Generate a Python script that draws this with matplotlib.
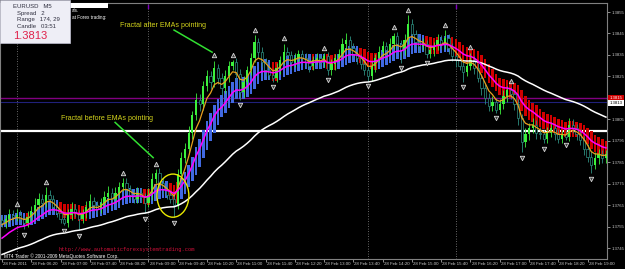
import numpy as np
import pandas as pd
import matplotlib
matplotlib.use('Agg')
import matplotlib.pyplot as plt
from matplotlib.patches import Ellipse, Rectangle
from matplotlib.transforms import blended_transform_factory

# EURUSD M5, 28 Feb 2011, one bar every 5 minutes from 05:40
# closes in pips above 1.3700
close_pips = [
    56.9, 58.7, 60.6, 59.7, 60.6, 58.7, 56.9, 59.7, 62.5, 65.3,
    68.1, 66.2, 70.0, 68.1, 64.3, 61.5, 58.7, 56.9, 60.6, 63.4,
    61.5, 58.7, 61.5, 64.3, 67.1, 65.3, 63.4, 66.2, 69.0, 70.9,
    68.1, 70.9, 73.7, 75.6, 72.8, 70.0, 68.1, 70.9, 69.0, 66.2,
    70.0, 77.4, 80.2, 75.6, 72.8, 70.0, 68.1, 65.3, 79.8, 86.8,
    91.4, 98.9, 106.9, 113.9, 112.0, 120.4, 125.1, 122.3, 128.8, 124.2,
    119.5, 125.1, 129.8, 131.6, 126.0, 117.6, 122.3, 127.9, 133.5, 141.0,
    136.3, 131.6, 127.9, 125.6, 124.2, 128.8, 132.6, 136.3, 134.9, 131.6,
    133.5, 135.4, 133.5, 131.6, 129.8, 132.6, 133.5, 131.6, 134.4, 127.9,
    130.7, 133.5, 135.4, 140.0, 141.9, 138.1, 135.4, 133.5, 130.7, 127.9,
    125.1, 129.8, 133.5, 136.3, 139.1, 137.2, 140.0, 143.8, 140.0, 137.2,
    141.9, 149.4, 144.7, 141.0, 139.1, 140.0, 135.4, 137.2, 139.1, 141.9,
    140.0, 142.8, 138.1, 134.4, 132.6, 129.8, 127.0, 129.8, 132.6, 128.8,
    124.2, 119.5, 114.8, 111.1, 113.0, 109.3, 112.0, 115.8, 118.6, 116.7,
    112.0, 105.5, 94.3, 98.0, 100.8, 102.6, 98.9, 98.0, 96.1, 98.9,
    100.8, 98.0, 96.1, 98.0, 97.0, 102.6, 100.8, 98.0, 95.2, 91.4,
    87.7, 83.9, 86.8, 88.7, 86.8, 88.7]
first_open_pips = 58.0

# wick lengths in pips
wick_up = [
    2.5, 2, 2.5, 2, 2.7, 2, 1.5, 2.5, 2, 3,
    2.5, 2, 3.5, 2, 1.5, 2, 1.5, 2, 2.5, 3,
    2, 1.5, 2, 2.5, 3, 2, 1.5, 2, 2.5, 3,
    2, 2.5, 2, 2.1, 2, 1.5, 2, 2.5, 2, 1.5,
    3, 2.5, 1.7, 2, 2, 2.5, 2, 1.5, 2, 3,
    2.5, 3, 2, 3.5, 3, 2.5, 3, 2.5, 3.6, 2,
    2.5, 3, 2.5, 1, 2, 2.5, 3, 2, 2.5, 3.1,
    2, 2.5, 2, 2, 3, 2.5, 2, 4, 2.5, 2,
    2.5, 2, 2, 2.5, 2, 2, 2.5, 2, 1.3, 2,
    2.5, 2, 2.5, 3, 3.5, 2, 2.5, 2, 2, 2.5,
    2, 2.5, 2, 3, 2.5, 2, 3, 1.5, 2, 2,
    3, 4, 2.5, 2, 2.5, 3, 2, 2.5, 2, 3,
    2.5, 3.6, 2, 2.5, 2, 2, 2.5, 2, 3.5, 2,
    2.5, 2, 2, 2.5, 3, 2, 2.5, 3, 2, 1.7,
    2, 2.5, 2, 3, 2.5, 3, 2, 2.5, 2, 2.5,
    3, 2, 2.5, 2, 2, 3, 2.5, 2, 2.5, 2,
    2, 2.5, 3, 2.5, 2, 2]
wick_dn = [
    2, 2.5, 2, 2.5, 2, 2, 3.1, 2, 2.5, 2,
    2, 2.5, 2, 2, 2.5, 2, 2, 1.3, 2, 2.5,
    2, 5.4, 2, 2.5, 2, 2, 2.5, 2, 2, 2,
    2.5, 2, 2, 2, 2.5, 2, 2, 2, 2.5, 5,
    2, 2.5, 2, 2, 2.5, 2, 2, 5.9, 2, 2.5,
    2, 2.5, 3, 2, 3, 2.5, 2, 3, 2, 2.5,
    3, 2, 2.5, 2, 2.5, 3.6, 2, 2.5, 2, 2,
    2.5, 2, 2.5, 2, 1.7, 2, 2.5, 2, 2, 2.5,
    2, 2.5, 2, 2, 2.5, 2, 2, 2.5, 2, 2.2,
    2, 2.5, 2, 2, 2.5, 2, 2, 2.5, 2, 2,
    2.2, 2, 2.5, 2, 2, 2.5, 2, 2, 2.5, 5.9,
    2, 2.5, 2, 2, 2.5, 2, 1.7, 2, 2.5, 2,
    2, 2, 2.5, 2, 3, 2, 4.5, 2, 2, 2.5,
    2, 3, 2.5, 2, 2, 1.3, 2, 2, 2.5, 2,
    2.5, 3, 4.6, 2, 2.5, 2, 3, 2, 2.2, 2,
    2, 2.5, 2, 2, 1.5, 2, 2, 2.5, 2, 3,
    2.5, 4, 2, 2.5, 2, 2]

up_fractals = [4, 12, 33, 42, 58, 63, 69, 77, 88, 107, 111, 121, 128, 139]
down_fractals = [6, 17, 21, 39, 47, 65, 74, 89, 100, 109, 116, 126, 135, 142, 148, 154, 161]

# starting values of the moving averages (pips above 1.3700)
fast_seed, mid_seed, slow_seed = 55.5, 48.5, 41.5

time_labels = ['28 Feb 2011', '28 Feb 06:20', '28 Feb 07:00', '28 Feb 07:40', '28 Feb 08:20',
               '28 Feb 09:00', '28 Feb 09:40', '28 Feb 10:20', '28 Feb 11:00', '28 Feb 11:40',
               '28 Feb 12:20', '28 Feb 13:00', '28 Feb 13:40', '28 Feb 14:20', '28 Feb 15:00',
               '28 Feb 15:40', '28 Feb 16:20', '28 Feb 17:00', '28 Feb 17:40', '28 Feb 18:20',
               '28 Feb 19:00']
price_ticks = [1.3855, 1.3845, 1.3835, 1.3825, 1.3805, 1.3795, 1.3785, 1.3775, 1.3765, 1.3755, 1.3745]
ask_price = 1.3815
bid_price = 1.3813
level_price = 1.37995
session_bars = [4, 40, 100, 124]

# ---- derived series
c = 1.37 + np.array(close_pips) / 1e4
o = np.r_[1.37 + first_open_pips / 1e4, c[:-1]]
h = np.maximum(o, c) + np.array(wick_up) / 1e4
l = np.minimum(o, c) - np.array(wick_dn) / 1e4
n = len(c)
idx = np.arange(n)


def ema(values, span, seed):
    a = 2 / (span + 1)
    out, prev = [], seed
    for v in values:
        prev = prev + a * (v - prev)
        out.append(prev)
    return np.array(out)


ema_fast = ema(c, 5, 1.37 + fast_seed / 1e4)
ema_mid = ema(c, 13, 1.37 + mid_seed / 1e4)
ema_slow = ema(c, 50, 1.37 + slow_seed / 1e4)

# heiken ashi smoothed
sm = lambda s: pd.Series(s).ewm(span=12, adjust=False).mean().values
so, sh, sl, sc = sm(o), sm(h), sm(l), sm(c)
ha_c = (so + sh + sl + sc) / 4
ha_o = np.empty(n)
ha_o[0] = (so[0] + sc[0]) / 2
for i in range(1, n):
    ha_o[i] = (ha_o[i - 1] + ha_c[i - 1]) / 2
ha_h = np.maximum(sh, np.maximum(ha_o, ha_c))
ha_l = np.minimum(sl, np.minimum(ha_o, ha_c))

# ---- figure
W, H = 625, 269
fig = plt.figure(figsize=(W / 100, H / 100), dpi=100, facecolor='black')
ax = fig.add_axes([0, 10 / H, 607 / W, 256 / H], facecolor='black')
ax.set_xlim(-0.55, 165.3)
ax.set_ylim(1.37400, 1.38592)

for b in session_bars:
    ax.axvline(b, color='#8a8a8a', lw=0.6, ls=(0, (1, 2)), zorder=1)
for b in (40, 124):
    ax.plot([b, b], [1.38570, 1.38585], color='#8000c0', lw=1, zorder=2)

ax.axhline(ask_price, color='#800080', lw=1, zorder=2)
ax.axhline(bid_price, color='#20207a', lw=0.8, zorder=2)
ax.axhline(level_price, color='white', lw=1.6, zorder=2)

ha_up = ha_c >= ha_o
for mask, col in ((ha_up, '#4169e1'), (~ha_up, '#d00000')):
    ax.bar(idx[mask], (ha_h - ha_l)[mask], bottom=ha_l[mask], width=0.7, color=col, zorder=3)

# candles
bull = c >= o
ax.vlines(idx[bull], l[bull], h[bull], color='#3cf03c', lw=0.6, zorder=4)
ax.vlines(idx[~bull], l[~bull], h[~bull], color='#2e8f80', lw=0.6, zorder=4)
body = np.maximum(np.abs(c - o), 0.00003)
ax.bar(idx[bull], body[bull], bottom=o[bull], width=0.62, color='#3cf03c', zorder=4.5)
ax.bar(idx[~bull], body[~bull], bottom=c[~bull], width=0.62, color='black',
       edgecolor='#2e8f80', linewidth=0.5, zorder=4.5)

ax.plot(idx, ema_slow, color='white', lw=1.1, zorder=5)
ax.plot(idx, ema_mid, color='#ff00ff', lw=1.1, zorder=5.2)
ax.plot(idx, ema_fast, color='#e8a020', lw=0.9, zorder=5.1)

ax.plot(up_fractals, h[up_fractals] + 0.00025, ls='none', marker='^', ms=3.2,
        mfc='#404040', mec='#d8d8d8', mew=0.6, zorder=6)
ax.plot(down_fractals, l[down_fractals] - 0.00025, ls='none', marker='v', ms=3.2,
        mfc='#404040', mec='#d8d8d8', mew=0.6, zorder=6)

# annotations
yel = '#d4d41c'
ax.text(32.2, 1.38485, 'Fractal after EMAs pointing', color=yel, fontsize=5.1,
        family='Liberation Sans', va='center', ha='left', zorder=7)
ax.plot([47.0, 57.4], [1.38466, 1.38363], color='#32e032', lw=1.1, zorder=7)
ax.text(16.1, 1.38055, 'Fractal before EMAs pointing', color=yel, fontsize=5.1,
        family='Liberation Sans', va='center', ha='left', zorder=7)
ax.plot([30.9, 41.3], [1.38036, 1.37872], color='#32e032', lw=1.1, zorder=7)
ax.add_patch(Ellipse((46.7, 1.37695), 8.7, 0.00201, fill=False, ec='#e8e800', lw=1, zorder=7))

ax.text(0.5, 1.37414, 'MT4 Trader \u00a9 2001-2009 MetaQuotes Software Corp.', color='white',
        fontsize=3.4, family='Liberation Sans', va='center', zorder=7)
ax.text(15.5, 1.37446, 'http://www.automaticforexsystemtrading.com', color='#d0103a',
        fontsize=3.9, family='Liberation Mono', va='center', zorder=7)

# axes styling
for s in ax.spines.values():
    s.set_color('#808080')
    s.set_linewidth(0.8)
ax.yaxis.tick_right()
ax.set_yticks(price_ticks)
ax.set_yticklabels(['%.4f' % p for p in price_ticks])
ax.tick_params(axis='y', colors='#c8c8c8', labelsize=3.1, length=2, width=0.5, pad=1.5)
for t in ax.get_yticklabels():
    t.set_family('Liberation Sans')
ax.set_xticks(range(0, 161, 8))
ax.set_xticklabels([])
ax.tick_params(axis='x', colors='#c8c8c8', length=2.5, width=0.5)
trans = blended_transform_factory(ax.transData, ax.transAxes)
for k, lab in enumerate(time_labels):
    ax.text(k * 8 + 0.3, -0.012, lab, transform=trans, ha='left', va='top', fontsize=3.2,
            color='#c8c8c8', family='Liberation Sans')

ytrans = blended_transform_factory(ax.transAxes, ax.transData)
ax.text(1.004, ask_price, '1.3815', transform=ytrans, ha='left', va='center', fontsize=3.1,
        color='white', family='Liberation Sans', zorder=8,
        bbox=dict(boxstyle='square,pad=0.3', fc='#d00000', ec='none'))
ax.text(1.004, bid_price - 0.00003, '1.3813', transform=ytrans, ha='left', va='center', fontsize=3.1,
        color='black', family='Liberation Sans', zorder=9,
        bbox=dict(boxstyle='square,pad=0.3', fc='white', ec='none'))

# top-left info panel and the partly hidden text behind it
def px(x, y):
    return x / W, 1 - y / H

fig.patches.append(Rectangle(px(70, 8), 38 / W, 5 / H, transform=fig.transFigure,
                             fc='white', ec='none', zorder=10))
fig.text(*px(72, 11), 'als.', color='white', fontsize=3.3, va='center', family='Liberation Sans', zorder=10)
fig.text(*px(72, 17), 'at Forex trading:', color='white', fontsize=3.3, va='center',
         family='Liberation Sans', zorder=10)
fig.patches.append(Rectangle(px(0, 43), 70 / W, 43 / H, transform=fig.transFigure,
                             fc='#eeeef6', ec='#c0c0d0', lw=0.5, zorder=11))
info = [('EURUSD   M5', 13, 6), ('Spread   2', 17, 13), ('Range   174, 29', 17, 20), ('Candle   03:51', 17, 27)]
for txt, x, y in info:
    fig.text(*px(x, y), txt, color='#303040', fontsize=4.3, va='center', family='Liberation Sans', zorder=12)
fig.text(*px(13, 36), '1.3813', color='#e0204a', fontsize=8, va='center', family='Liberation Sans', zorder=12)

fig.savefig('out.png', dpi=100, facecolor='black')
